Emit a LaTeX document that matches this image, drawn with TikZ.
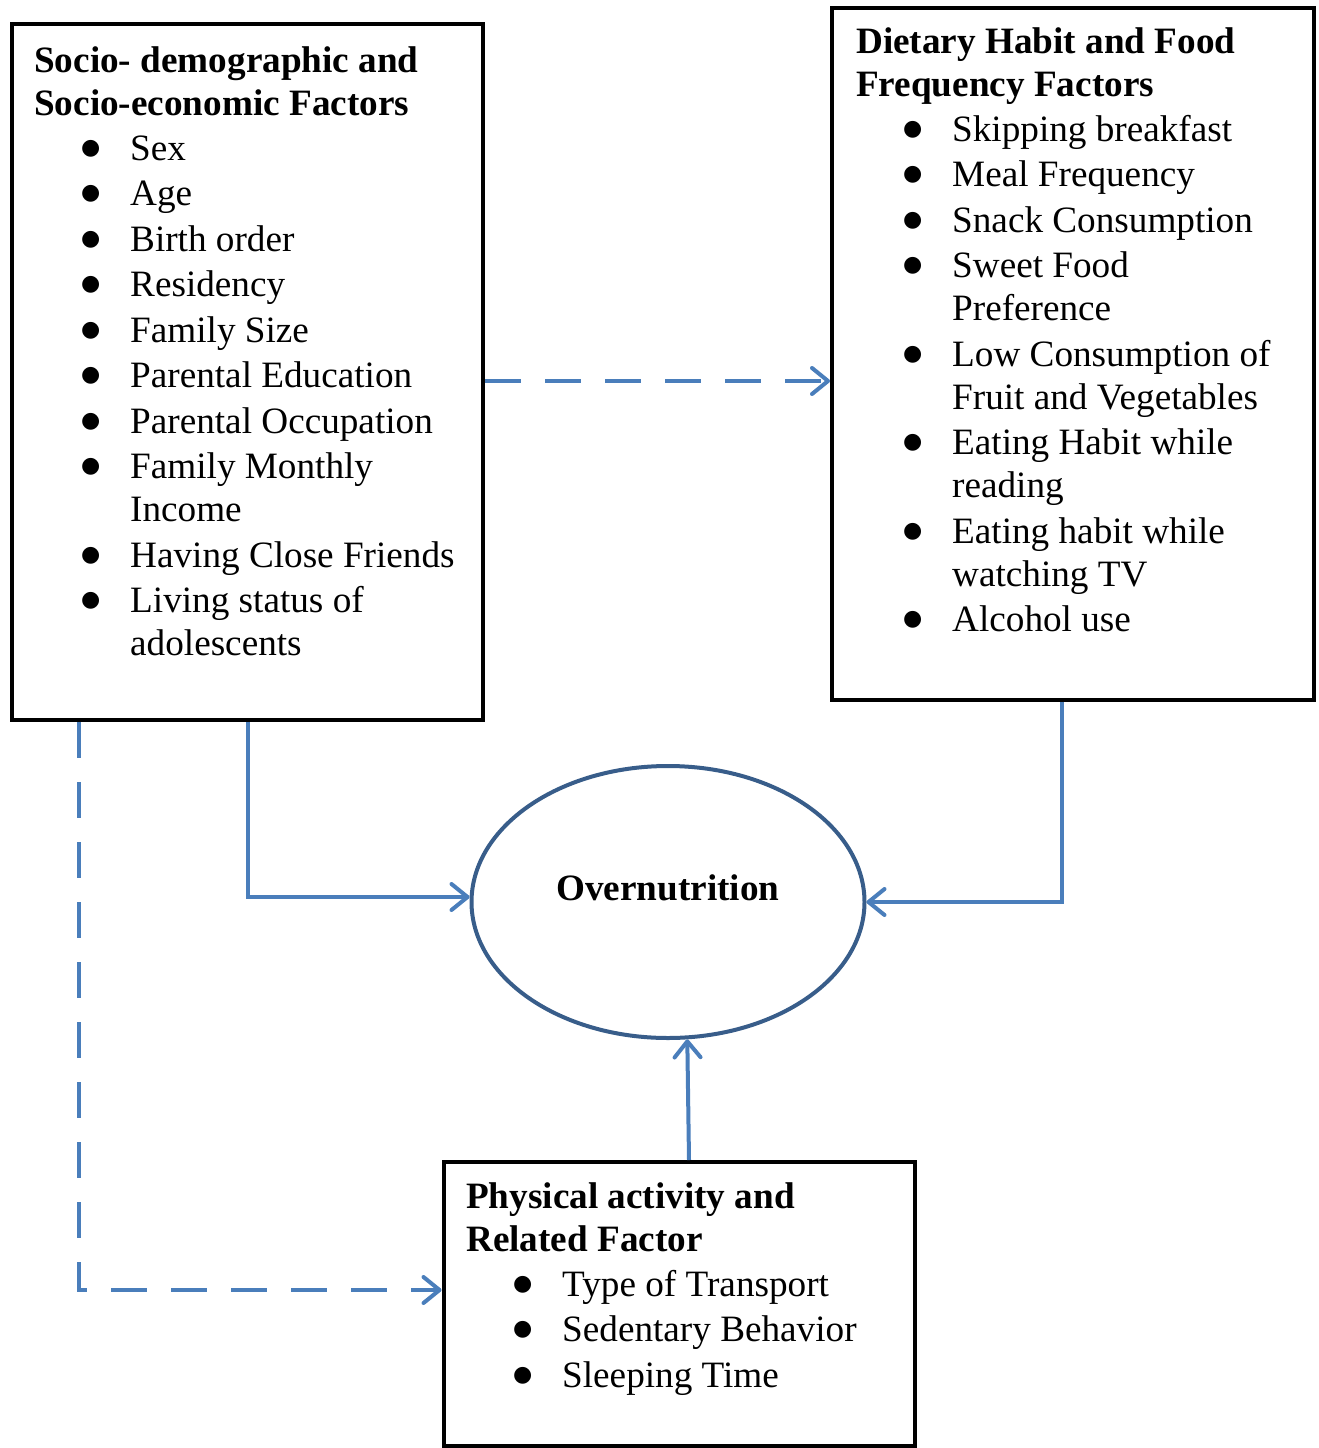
\documentclass[tikz,border=0pt]{standalone}
\usepackage{fontspec}
\setmainfont{Liberation Serif}
\newfontfamily\dejavu{DejaVu Sans}
\usetikzlibrary{arrows.meta,shapes.geometric}
\definecolor{arrblue}{HTML}{4A7EBB}
\definecolor{ellblue}{HTML}{385D8A}
\newcommand\bigfnt{\fontsize{37.2}{43}\selectfont}
\newcommand\ttl[1]{\multicolumn{3}{@{}l@{}}{\bfseries #1}}
\newcommand\bul{\hspace*{-2pt}\raisebox{6pt}{\dejavu\fontsize{22}{22}\selectfont ●}}
\tikzset{
  factorbox/.style={draw=black, line width=4pt, rectangle, inner sep=0pt},
  listtext/.style={anchor=base west, inner sep=0pt, font=\bigfnt},
  conn/.style={draw=arrblue, line width=4pt, -{Straight Barb[length=16pt,width=26pt,line cap=round,line join=round]}},
  dconn/.style={conn, dash pattern=on 36pt off 24pt},
}
\begin{document}
\begin{tikzpicture}[x=1pt,y=-1pt]
\useasboundingbox (0,0) rectangle (1318,1448);
% boxes
\node[factorbox, minimum width=471pt, minimum height=696pt] (A) at (247.5,372) {};
\node[factorbox, minimum width=482pt, minimum height=692pt] (B) at (1073,354) {};
\node[factorbox, minimum width=471pt, minimum height=284pt] (C) at (679,1304) {};
\node[ellipse, draw=ellblue, line width=4pt, minimum width=393pt, minimum height=272pt, inner sep=0pt] (O) at (668,902) {};
% texts
\node[listtext] (At) at (34,72) {\begin{tabular}[t]{@{}p{49pt}@{}p{47pt}@{}l@{}}
\ttl{Socio- demographic and}\\
\ttl{Socio-economic Factors}\\[2pt]
& \bul & Sex\\[2.5pt]
& \bul & Age\\[2.5pt]
& \bul & Birth order\\[2.5pt]
& \bul & Residency\\[2.5pt]
& \bul & Family Size\\[2.5pt]
& \bul & Parental Education\\[2.5pt]
& \bul & Parental Occupation\\[2.5pt]
& \bul & Family Monthly\\
&      & Income\\[2.5pt]
& \bul & Having Close Friends\\[2.5pt]
& \bul & Living status of\\
&      & adolescents
\end{tabular}};
\node[listtext] (Bt) at (856,53) {\begin{tabular}[t]{@{}p{49pt}@{}p{47pt}@{}l@{}}
\ttl{Dietary Habit and Food}\\
\ttl{Frequency Factors}\\[2pt]
& \bul & Skipping breakfast\\[2.5pt]
& \bul & Meal Frequency\\[2.5pt]
& \bul & Snack Consumption\\[2.5pt]
& \bul & Sweet Food\\
&      & Preference\\[2.5pt]
& \bul & Low Consumption of\\
&      & Fruit and Vegetables\\[2.5pt]
& \bul & Eating Habit while\\
&      & reading\\[2.5pt]
& \bul & Eating habit while\\
&      & watching TV\\[2.5pt]
& \bul & Alcohol use
\end{tabular}};
\node[listtext] (Ct) at (466,1208) {\begin{tabular}[t]{@{}p{49pt}@{}p{47pt}@{}l@{}}
\ttl{Physical activity and}\\
\ttl{Related Factor}\\[2pt]
& \bul & Type of Transport\\[2.5pt]
& \bul & Sedentary Behavior\\[2.5pt]
& \bul & Sleeping Time
\end{tabular}};
\node[anchor=base, inner sep=0pt, font=\bigfnt\bfseries] (Ot) at (668,900) {Overnutrition};
% connectors
\draw[dconn] (A.east |- 0,381) -- (B.west |- 0,381);
\draw[conn] (A.south) |- ([yshift=5pt]O.west);
\draw[conn] ([xshift=-11pt]B.south) |- (O.east);
\draw[conn] ([xshift=10pt]C.north) -- (O.278.8);
\draw[dconn] ([xshift=-168.5pt]A.south) |- (C.west |- 0,1290);
\end{tikzpicture}
\end{document}
